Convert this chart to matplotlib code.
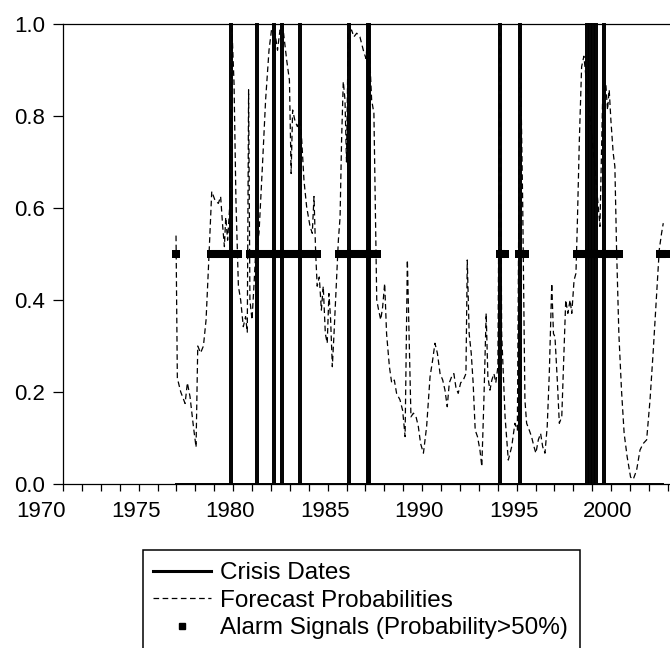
import matplotlib
matplotlib.use("Agg")
import matplotlib.pyplot as plt
from matplotlib.lines import Line2D
from matplotlib.patches import Rectangle
from matplotlib.ticker import MultipleLocator, FuncFormatter
from matplotlib.transforms import ScaledTranslation
import numpy as np

plt.rcParams['font.family'] = ['Liberation Sans', 'DejaVu Sans']

# forecast probabilities (decimal year, probability)
prob_year = [1975.98, 1976.05, 1976.23, 1976.46, 1976.58, 1976.72, 1976.90, 1977.04, 1977.13, 1977.28,
             1977.43, 1977.57, 1977.69, 1977.87, 1978.04, 1978.22, 1978.34, 1978.45, 1978.54, 1978.61,
             1978.71, 1978.84, 1978.94, 1979.05, 1979.15, 1979.28, 1979.40, 1979.54, 1979.66, 1979.75,
             1979.82, 1979.89, 1980.00, 1980.11, 1980.19, 1980.37, 1980.55, 1980.72, 1980.90, 1981.04,
             1981.22, 1981.35, 1981.48, 1981.67, 1981.84, 1981.98, 1982.07, 1982.15, 1982.27, 1982.40,
             1982.54, 1982.63, 1982.75, 1982.89, 1983.07, 1983.19, 1983.28, 1983.37, 1983.45, 1983.56,
             1983.67, 1983.77, 1983.88, 1983.98, 1984.07, 1984.16, 1984.25, 1984.34, 1984.44, 1984.57,
             1984.66, 1984.74, 1984.83, 1984.92, 1985.00, 1985.09, 1985.27, 1985.39, 1985.54, 1985.71,
             1985.89, 1986.03, 1986.16, 1986.33, 1986.45, 1986.52, 1986.60, 1986.70, 1986.81, 1986.91,
             1987.02, 1987.12, 1987.27, 1987.39, 1987.53, 1987.65, 1987.83, 1987.97, 1988.10, 1988.22,
             1988.31, 1988.41, 1988.54, 1988.68, 1988.80, 1988.92, 1989.07, 1989.24, 1989.42, 1989.56,
             1989.68, 1989.81, 1989.95, 1990.09, 1990.21, 1990.33, 1990.44, 1990.56, 1990.68, 1990.79,
             1990.91, 1991.04, 1991.18, 1991.32, 1991.39, 1991.49, 1991.60, 1991.70, 1991.81, 1991.93,
             1992.06, 1992.16, 1992.27, 1992.39, 1992.48, 1992.59, 1992.69, 1992.80, 1992.90, 1993.01,
             1993.12, 1993.21, 1993.39, 1993.56, 1993.74, 1993.91, 1994.04, 1994.18, 1994.32, 1994.44,
             1994.53, 1994.67, 1994.79, 1994.92, 1995.02, 1995.15, 1995.27, 1995.38, 1995.50, 1995.62,
             1995.73, 1995.86, 1995.95, 1996.03, 1996.16, 1996.26, 1996.39, 1996.48, 1996.60, 1996.71,
             1996.83, 1996.92, 1997.04, 1997.14, 1997.21, 1997.32, 1997.44, 1997.56, 1997.79, 1998.14,
             1998.41, 1998.55, 1998.72, 1998.81, 1998.90, 1998.99, 1999.11, 1999.20, 1999.29, 1999.41,
             1999.55, 1999.69, 1999.85, 2000.03, 2000.17, 2000.35, 2000.53, 2000.70, 2000.88, 2001.06,
             2001.23, 2001.41, 2001.55, 2001.67, 2001.76]
prob_value = [0.54, 0.23, 0.20, 0.175, 0.22, 0.19, 0.125, 0.08, 0.30, 0.285,
              0.30, 0.357, 0.465, 0.636, 0.617, 0.61, 0.625, 0.56, 0.516, 0.58,
              0.53, 0.617, 0.99, 0.87, 0.617, 0.43, 0.40, 0.342, 0.364, 0.33,
              0.857, 0.40, 0.357, 0.436, 0.50, 0.545, 0.69, 0.835, 0.943, 0.99,
              0.98, 0.943, 0.987, 0.98, 0.92, 0.878, 0.675, 0.813, 0.79, 0.777,
              0.79, 0.748, 0.66, 0.603, 0.56, 0.545, 0.625, 0.50, 0.43, 0.45,
              0.378, 0.43, 0.327, 0.306, 0.414, 0.357, 0.255, 0.327, 0.414, 0.53,
              0.58, 0.748, 0.875, 0.835, 0.70, 0.98, 0.987, 0.972, 0.98, 0.972,
              0.943, 0.925, 0.99, 0.835, 0.806, 0.617, 0.40, 0.378, 0.357, 0.384,
              0.436, 0.327, 0.255, 0.22, 0.226, 0.197, 0.183, 0.16, 0.103, 0.487,
              0.327, 0.146, 0.154, 0.146, 0.125, 0.088, 0.067, 0.125, 0.233, 0.27,
              0.306, 0.284, 0.24, 0.226, 0.204, 0.168, 0.22, 0.233, 0.24, 0.21,
              0.197, 0.22, 0.226, 0.24, 0.487, 0.327, 0.284, 0.22, 0.117, 0.103,
              0.074, 0.038, 0.183, 0.371, 0.233, 0.204, 0.226, 0.24, 0.22, 0.255,
              0.98, 0.327, 0.146, 0.052, 0.081, 0.132, 0.117, 0.99, 0.617, 0.183,
              0.132, 0.117, 0.103, 0.081, 0.067, 0.096, 0.11, 0.081, 0.067, 0.125,
              0.24, 0.436, 0.327, 0.32, 0.22, 0.132, 0.146, 0.255, 0.40, 0.371,
              0.40, 0.371, 0.443, 0.458, 0.56, 0.748, 0.907, 0.93, 0.835, 0.69,
              0.56, 0.835, 0.87, 0.813, 0.857, 0.79, 0.72, 0.69, 0.51, 0.327,
              0.204, 0.11, 0.059, 0.015, 0.01, 0.03, 0.074, 0.088, 0.096, 0.183,
              0.29, 0.414, 0.51, 0.545, 0.567]

# months flagged as crisis (start of month, crisis = 1 for that month)
crisis_months = [1978.85, 1980.22, 1981.13, 1981.54, 1982.50, 1985.08, 1986.08, 1986.17,
                 1993.08, 1994.13, 1997.67, 1997.83, 1998.00, 1998.17, 1998.58]
crisis_start, crisis_end = 1976.0, 2001.76

# alarm signal periods (first and last month with probability > 50%)
alarm_start = [1976.00, 1977.83, 1979.87, 1984.62, 1993.13, 1994.15, 1997.17, 2001.58]
alarm_end = [1976.00, 1979.25, 1983.42, 1986.62, 1993.38, 1994.45, 1999.42, 2001.90]

years = list(range(1970, 2003))
year_labels = [str(y) if y % 5 == 0 else "" for y in years]

W, H = 670, 648
fig = plt.figure(figsize=(W / 100, H / 100), dpi=100)
ax = fig.add_axes([63 / W, 1 - 484 / H, (W - 63) / W, 460 / H])

# crisis dates as a 0/1 step series
cx, cy = [crisis_start], [0]
for m in crisis_months:
    cx += [m, m, m + 1 / 12, m + 1 / 12]
    cy += [0, 1, 1, 0]
cx.append(crisis_end)
cy.append(0)
ax.plot(cx, cy, color='black', lw=1.4, solid_joinstyle='miter', clip_on=False)

dash = (0, (4.5, 2.8))
ax.plot(prob_year, prob_value, color='black', lw=0.9, linestyle=dash)

for s, e in zip(alarm_start, alarm_end):
    ax.plot([s, e], [0.5, 0.5], color='black', lw=5.8, solid_capstyle='butt',
            marker='s', markersize=5.8, markeredgewidth=0)

ax.set_xlim(1970, 1970 + (W - 63) / 18.9)
ax.set_ylim(0, 1)
ax.spines['right'].set_visible(False)
for sp in ['left', 'top', 'bottom']:
    ax.spines[sp].set_linewidth(0.9)
ax.set_xticks(years)
ax.set_xticklabels(year_labels)
ax.yaxis.set_major_locator(MultipleLocator(0.2))
ax.yaxis.set_major_formatter(FuncFormatter(lambda v, p: f"{v:.1f}"))
ax.tick_params(axis='x', direction='out', length=5, width=0.9, labelsize=16, pad=7)
ax.tick_params(axis='y', direction='out', length=7, width=0.9, labelsize=16, pad=6)
shift = ScaledTranslation(2 / 72, 0, fig.dpi_scale_trans)
for lbl in ax.get_xticklabels():
    lbl.set_horizontalalignment('right')
    lbl.set_transform(lbl.get_transform() + shift)

handles = [Line2D([], [], color='black', lw=2.2),
           Line2D([], [], color='black', lw=0.9, linestyle=dash),
           Line2D([], [], color='black', lw=0, marker='s', markersize=5)]
labels = ['Crisis Dates', 'Forecast Probabilities', 'Alarm Signals (Probability>50%)']
leg = fig.legend(handles, labels, loc='upper left', bbox_to_anchor=(153 / W, 1 - 562 / H),
                 frameon=False, fontsize=17.5, handlelength=2.4, handletextpad=0.35,
                 labelspacing=0.23, borderpad=0, borderaxespad=0)

fig.canvas.draw()
bb = leg.get_window_extent()
box_left, box_top = 143, 550
box_right = bb.x1 + 12
fig.add_artist(Rectangle((box_left / W, -0.05), (box_right - box_left) / W, 0.05 + 1 - box_top / H,
                         transform=fig.transFigure, fill=False, edgecolor='black', lw=1.1))

fig.savefig('out.png', dpi=100)
